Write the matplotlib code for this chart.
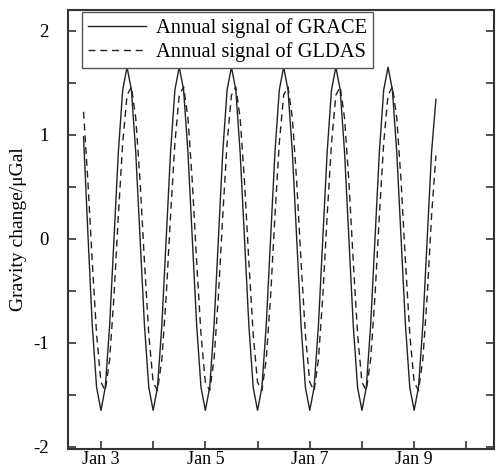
import matplotlib
matplotlib.use("Agg")
import matplotlib.pyplot as plt
import numpy as np

# monthly samples, Sep 2002 .. Jun 2009 (decimal years)
start_year = 2002 + 8 / 12
n_months = 82

grace = [
    0.98, 0.05, -0.83, -1.43,                                              # 2002
    -1.65, -1.43, -0.83, 0.00, 0.83, 1.43, 1.65, 1.43, 0.83, 0.00, -0.83, -1.43,  # 2003
    -1.65, -1.43, -0.83, 0.00, 0.83, 1.43, 1.65, 1.43, 0.83, 0.00, -0.83, -1.43,  # 2004
    -1.65, -1.43, -0.83, 0.00, 0.83, 1.43, 1.65, 1.43, 0.83, 0.00, -0.83, -1.43,  # 2005
    -1.65, -1.43, -0.83, 0.00, 0.83, 1.43, 1.65, 1.43, 0.83, 0.00, -0.83, -1.43,  # 2006
    -1.65, -1.43, -0.83, 0.00, 0.83, 1.43, 1.65, 1.43, 0.83, 0.00, -0.83, -1.43,  # 2007
    -1.65, -1.43, -0.83, 0.00, 0.83, 1.43, 1.65, 1.43, 0.83, 0.00, -0.83, -1.43,  # 2008
    -1.65, -1.43, -0.83, 0.00, 0.83, 1.34,                                 # 2009
]
gldas = [
    1.22, 0.55, -0.22, -0.92,                                              # 2002
    -1.38, -1.46, -1.16, -0.55, 0.22, 0.92, 1.38, 1.46, 1.16, 0.55, -0.22, -0.92,  # 2003
    -1.38, -1.46, -1.16, -0.55, 0.22, 0.92, 1.38, 1.46, 1.16, 0.55, -0.22, -0.92,  # 2004
    -1.38, -1.46, -1.16, -0.55, 0.22, 0.92, 1.38, 1.46, 1.16, 0.55, -0.22, -0.92,  # 2005
    -1.38, -1.46, -1.16, -0.55, 0.22, 0.92, 1.38, 1.46, 1.16, 0.55, -0.22, -0.92,  # 2006
    -1.38, -1.46, -1.16, -0.55, 0.22, 0.92, 1.38, 1.46, 1.16, 0.55, -0.22, -0.92,  # 2007
    -1.38, -1.46, -1.16, -0.55, 0.22, 0.92, 1.38, 1.46, 1.16, 0.55, -0.22, -0.92,  # 2008
    -1.38, -1.46, -1.16, -0.55, 0.22, 0.80,                                # 2009
]

tick_years = [2003, 2004, 2005, 2006, 2007, 2008, 2009, 2010]
tick_labels = ["Jan 3", "", "Jan 5", "", "Jan 7", "", "Jan 9", ""]
ytick_vals = [-2, -1.5, -1, -0.5, 0, 0.5, 1, 1.5, 2]
ytick_labels = ["-2", "", "-1", "", "0", "", "1", "", "2"]

plt.rcParams["font.family"] = ["Liberation Serif", "DejaVu Serif"]

t = start_year + np.arange(n_months) / 12

fig = plt.figure(figsize=(4.96, 4.69), dpi=100)
ax = fig.add_axes([0.137, 0.043, 0.859, 0.936])

ax.plot(t, grace, color="#222222", lw=1.0, ls="-", label="Annual signal of GRACE")
ax.plot(t, gldas, color="#222222", lw=1.0, ls=(0, (5, 3.5)), label="Annual signal of GLDAS")

ax.set_xlim(2002.368, 2010.53)
ax.set_ylim(-2.02, 2.2)
ax.set_xticks(tick_years)
ax.set_xticklabels(tick_labels, fontsize=13)
ax.set_yticks(ytick_vals)
ax.set_yticklabels(ytick_labels, fontsize=13.5)
ax.tick_params(direction="in", length=6, width=1.2, color="#333333",
               right=True, top=False)
ax.tick_params(axis="x", pad=1.5)
ax.tick_params(axis="y", pad=14)
ax.set_ylabel("Gravity change/\u03bcGal", fontsize=14, labelpad=4)
for s in ax.spines.values():
    s.set_linewidth(1.5)
    s.set_color("#333333")

leg = ax.legend(loc="upper left", bbox_to_anchor=(0.033, 0.995), borderaxespad=0,
                fontsize=14.8, fancybox=False, framealpha=1, edgecolor="#555555",
                handlelength=2.8, handletextpad=0.5, borderpad=0.3, labelspacing=0.2)
leg.get_frame().set_linewidth(1.0)

fig.savefig("out.png", dpi=100)
